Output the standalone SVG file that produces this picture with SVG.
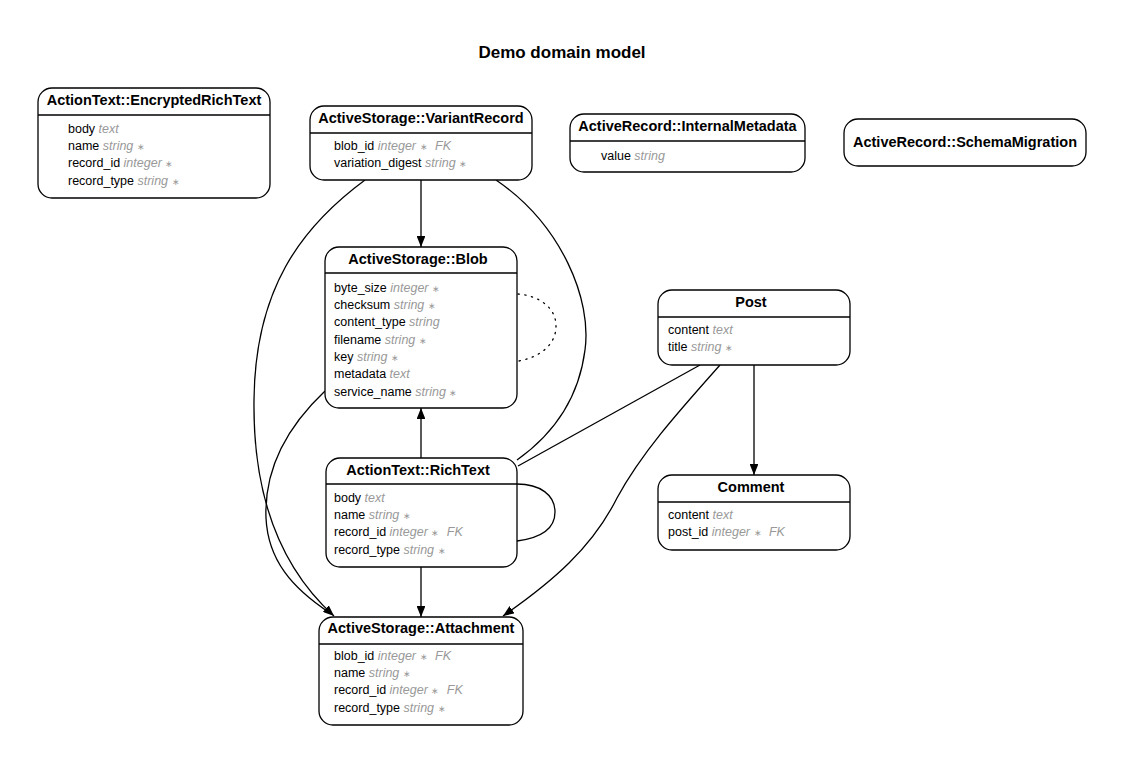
<svg xmlns="http://www.w3.org/2000/svg" width="1124" height="765" viewBox="0 0 1124 765">
  <style>
    .box { fill: #ffffff; stroke: #000000; stroke-width: 1.3; }
    .sep { stroke: #000000; stroke-width: 1.3; }
    .title { font-family: "Liberation Sans", Arial, sans-serif; font-size: 14.5px; font-weight: bold; fill: #000000; text-anchor: middle; }
    .attr { font-family: "Liberation Sans", Arial, sans-serif; font-size: 12.5px; fill: #000000; }
    .type { font-style: italic; fill: #999999; }
    .req { font-size: 9px; fill: #999999; }
    .edge { fill: none; stroke: #000000; stroke-width: 1.3; }
    .dotted { stroke-dasharray: 1.3 5.5; stroke-linecap: round; }
    .heading { font-family: "Liberation Sans", Arial, sans-serif; font-size: 17px; font-weight: bold; fill: #000000; text-anchor: middle; }
  </style>
  <defs>
    <marker id="arrow" viewBox="0 0 10 8" refX="10" refY="4" markerWidth="11" markerHeight="8.8" markerUnits="userSpaceOnUse" orient="auto">
      <path d="M0,0 L10,4 L0,8 Z" fill="#000000"/>
    </marker>
  </defs>

  <rect width="1124" height="765" fill="#ffffff"/>
  <text class="heading" x="562" y="58">Demo domain model</text>

  <!-- relationships -->
  <g id="connectors">
    <path class="edge" d="M421,180 L421,247" marker-end="url(#arrow)"/>
    <path class="edge" d="M421,458 L421,408" marker-end="url(#arrow)"/>
    <path class="edge" d="M421,567 L421,617" marker-end="url(#arrow)"/>
    <path class="edge" d="M754,365 L754,475" marker-end="url(#arrow)"/>
    <path class="edge" d="M365,180 C300,228 255,290 254,400 C253,480 272,560 334,616" marker-end="url(#arrow)"/>
    <path class="edge" d="M325,391 C288,426 264,468 266,518 C268,560 292,588 330,613"/>
    <path class="edge" d="M496,180 C562,225 592,300 585,350 C578,405 548,438 517,460"/>
    <path class="edge" d="M700,365 L518,466"/>
    <path class="edge" d="M720,365 C680,410 642,452 617,498 C592,548 552,582 503,616" marker-end="url(#arrow)"/>
    <path class="edge" d="M517,484 C540,484 555,495 555,512 C555,530 540,538 517,541"/>
    <path class="edge dotted" d="M518,294 C540,296 556,308 556,326 C556,345 540,357 519,361"/>
  </g>

  <g id="ActionText_EncryptedRichText">
    <rect class="box" x="38" y="88" width="232" height="110" rx="14"/>
    <line class="sep" x1="38" y1="115" x2="270" y2="115"/>
    <text class="title" x="154" y="105">ActionText::EncryptedRichText</text>
    <text class="attr" x="68" y="132.5">body <tspan class="type">text</tspan></text>
    <text class="attr" x="68" y="150">name <tspan class="type">string</tspan> <tspan class="req">∗</tspan></text>
    <text class="attr" x="68" y="167.2">record_id <tspan class="type">integer</tspan> <tspan class="req">∗</tspan></text>
    <text class="attr" x="68" y="184.5">record_type <tspan class="type">string</tspan> <tspan class="req">∗</tspan></text>
  </g>

  <g id="ActiveStorage_VariantRecord">
    <rect class="box" x="310" y="106" width="222" height="74" rx="14"/>
    <line class="sep" x1="310" y1="133" x2="532" y2="133"/>
    <text class="title" x="421" y="123">ActiveStorage::VariantRecord</text>
    <text class="attr" x="334" y="149.5">blob_id <tspan class="type">integer</tspan> <tspan class="req">∗</tspan> <tspan class="type" dx="4">FK</tspan></text>
    <text class="attr" x="334" y="167">variation_digest <tspan class="type">string</tspan> <tspan class="req">∗</tspan></text>
  </g>

  <g id="ActiveRecord_InternalMetadata">
    <rect class="box" x="570" y="114" width="235" height="58" rx="14"/>
    <line class="sep" x1="570" y1="141" x2="805" y2="141"/>
    <text class="title" x="687.5" y="131">ActiveRecord::InternalMetadata</text>
    <text class="attr" x="601" y="159.5">value <tspan class="type">string</tspan></text>
  </g>

  <g id="ActiveRecord_SchemaMigration">
    <rect class="box" x="844" y="119" width="242" height="47" rx="14"/>
    <text class="title" x="965" y="147">ActiveRecord::SchemaMigration</text>
  </g>

  <g id="ActiveStorage_Blob">
    <rect class="box" x="325" y="247" width="192" height="161" rx="14"/>
    <line class="sep" x1="325" y1="273" x2="517" y2="273"/>
    <text class="title" x="418" y="264">ActiveStorage::Blob</text>
    <text class="attr" x="334" y="291.5">byte_size <tspan class="type">integer</tspan> <tspan class="req">∗</tspan></text>
    <text class="attr" x="334" y="308.8">checksum <tspan class="type">string</tspan> <tspan class="req">∗</tspan></text>
    <text class="attr" x="334" y="326.2">content_type <tspan class="type">string</tspan></text>
    <text class="attr" x="334" y="343.5">filename <tspan class="type">string</tspan> <tspan class="req">∗</tspan></text>
    <text class="attr" x="334" y="360.9">key <tspan class="type">string</tspan> <tspan class="req">∗</tspan></text>
    <text class="attr" x="334" y="378.2">metadata <tspan class="type">text</tspan></text>
    <text class="attr" x="334" y="395.6">service_name <tspan class="type">string</tspan> <tspan class="req">∗</tspan></text>
  </g>

  <g id="Post">
    <rect class="box" x="658" y="290" width="192" height="75" rx="14"/>
    <line class="sep" x1="658" y1="317" x2="850" y2="317"/>
    <text class="title" x="751" y="307">Post</text>
    <text class="attr" x="668" y="333.5">content <tspan class="type">text</tspan></text>
    <text class="attr" x="668" y="351">title <tspan class="type">string</tspan> <tspan class="req">∗</tspan></text>
  </g>

  <g id="ActionText_RichText">
    <rect class="box" x="326" y="458" width="191" height="109" rx="14"/>
    <line class="sep" x1="326" y1="484" x2="517" y2="484"/>
    <text class="title" x="418" y="475">ActionText::RichText</text>
    <text class="attr" x="334" y="501.5">body <tspan class="type">text</tspan></text>
    <text class="attr" x="334" y="518.8">name <tspan class="type">string</tspan> <tspan class="req">∗</tspan></text>
    <text class="attr" x="334" y="536.2">record_id <tspan class="type">integer</tspan> <tspan class="req">∗</tspan> <tspan class="type" dx="4">FK</tspan></text>
    <text class="attr" x="334" y="553.5">record_type <tspan class="type">string</tspan> <tspan class="req">∗</tspan></text>
  </g>

  <g id="Comment">
    <rect class="box" x="658" y="475" width="192" height="75" rx="14"/>
    <line class="sep" x1="658" y1="502" x2="850" y2="502"/>
    <text class="title" x="751" y="492">Comment</text>
    <text class="attr" x="668" y="518.5">content <tspan class="type">text</tspan></text>
    <text class="attr" x="668" y="536">post_id <tspan class="type">integer</tspan> <tspan class="req">∗</tspan> <tspan class="type" dx="4">FK</tspan></text>
  </g>

  <g id="ActiveStorage_Attachment">
    <rect class="box" x="319" y="617" width="204" height="108" rx="14"/>
    <line class="sep" x1="319" y1="644" x2="523" y2="644"/>
    <text class="title" x="421" y="633">ActiveStorage::Attachment</text>
    <text class="attr" x="334" y="659.5">blob_id <tspan class="type">integer</tspan> <tspan class="req">∗</tspan> <tspan class="type" dx="4">FK</tspan></text>
    <text class="attr" x="334" y="676.8">name <tspan class="type">string</tspan> <tspan class="req">∗</tspan></text>
    <text class="attr" x="334" y="694.2">record_id <tspan class="type">integer</tspan> <tspan class="req">∗</tspan> <tspan class="type" dx="4">FK</tspan></text>
    <text class="attr" x="334" y="711.5">record_type <tspan class="type">string</tspan> <tspan class="req">∗</tspan></text>
  </g>
</svg>
